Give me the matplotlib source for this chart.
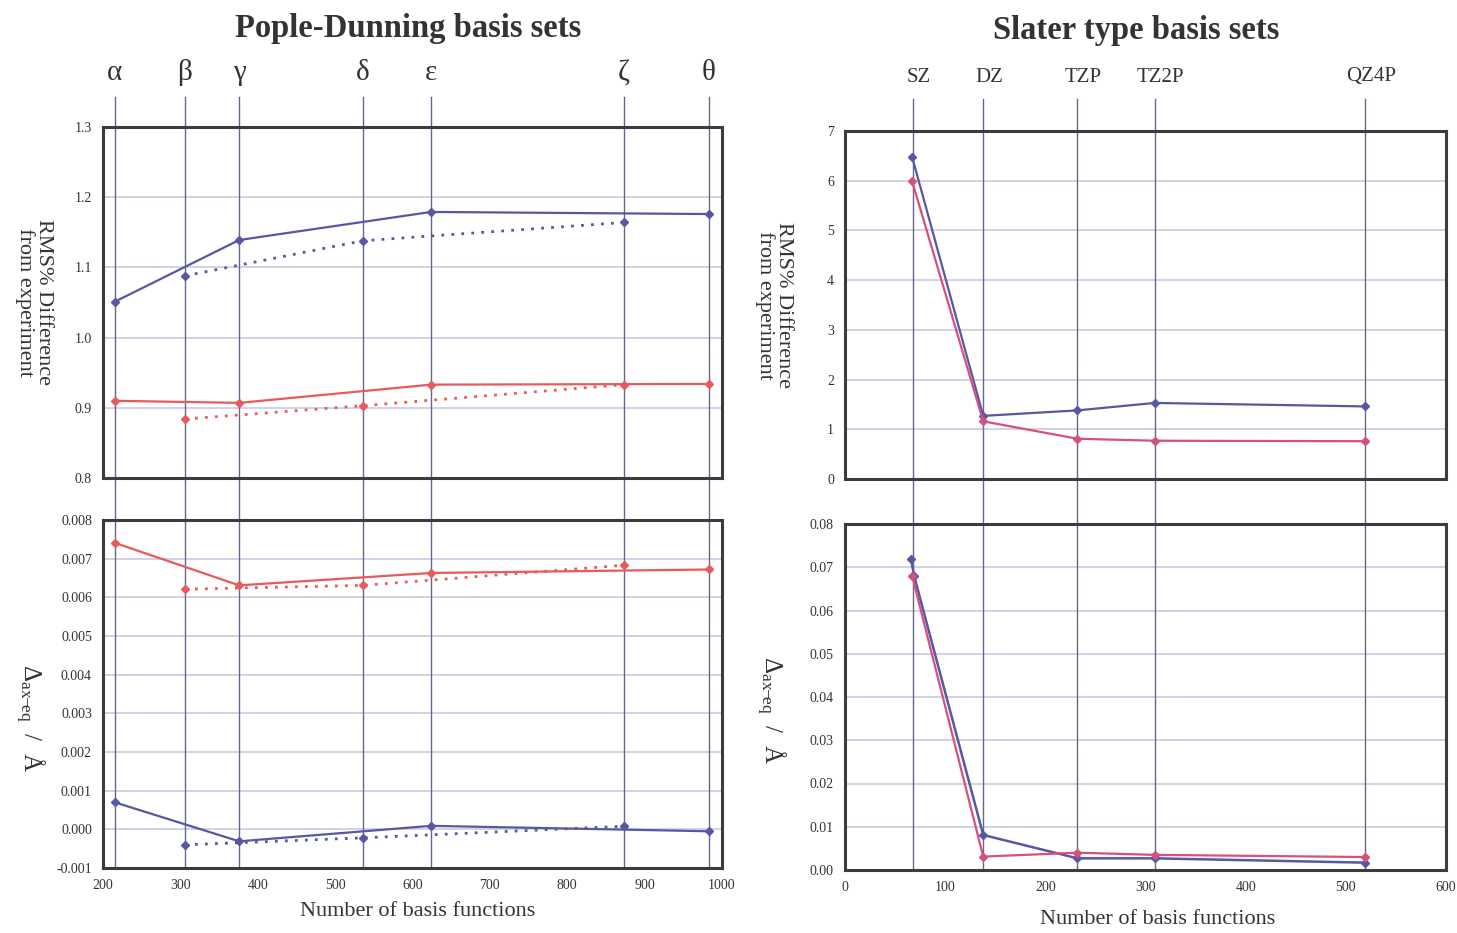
import matplotlib
matplotlib.use("Agg")
import matplotlib.pyplot as plt
import numpy as np

plt.rcParams['font.family'] = ['Liberation Serif', 'DejaVu Serif']
plt.rcParams['mathtext.fontset'] = 'custom'
plt.rcParams['mathtext.rm'] = 'Liberation Serif'
plt.rcParams['mathtext.it'] = 'Liberation Serif:italic'

# ---------------- data ----------------
pd_labels = ['α', 'β', 'γ', 'δ', 'ε', 'ζ', 'θ']
pd_nbf = [215, 306, 376, 536, 624, 873, 983]

# solid series: α, γ, ε, θ ; dotted series: β, δ, ζ
pd_solid_x = [215, 376, 624, 983]
pd_dot_x = [306, 536, 873]

rms_blue_solid = [1.051, 1.139, 1.179, 1.176]
rms_blue_dot = [1.088, 1.138, 1.164]
rms_red_solid = [0.910, 0.907, 0.933, 0.934]
rms_red_dot = [0.884, 0.903, 0.933]

dax_red_solid = [0.00741, 0.00631, 0.00663, 0.00672]
dax_red_dot = [0.00621, 0.00631, 0.00683]
dax_blue_solid = [0.00070, -0.00031, 0.00009, -0.00005]
dax_blue_dot = [-0.00040, -0.00022, 0.00008]

sl_labels = ['SZ', 'DZ', 'TZP', 'TZ2P', 'QZ4P']
sl_nbf = [68, 138, 232, 309, 519]

sl_rms_blue_x = [67, 138, 232, 309, 519]
sl_rms_blue = [6.48, 1.27, 1.38, 1.53, 1.46]
sl_rms_red_x = [67, 138, 232, 309, 519]
sl_rms_red = [5.99, 1.16, 0.81, 0.77, 0.76]

sl_dax_blue_x = [66, 69, 138, 232, 309, 519]
sl_dax_blue = [0.0718, 0.0680, 0.0081, 0.0027, 0.0027, 0.0017]
sl_dax_red_x = [67, 138, 232, 309, 519]
sl_dax_red = [0.0680, 0.0031, 0.0040, 0.0035, 0.0030]

# ---------------- style ----------------
BLUE = '#5757a3'
RED = '#e85a5c'
PINK = '#d6507c'
GRID = '#cfcfe6'
VLINE = '#66668a'
SPINE = '#3c3c3c'
TXT = '#333333'

W, H = 1457, 933
fig = plt.figure(figsize=(W / 100, H / 100), dpi=100)


def ax_at(l, t, r, b):
    return fig.add_axes([l / W, 1 - b / H, (r - l) / W, (b - t) / H])


axLT = ax_at(103, 127, 722, 478)
axLB = ax_at(103, 520, 722, 868)
axRT = ax_at(845, 131, 1446, 479)
axRB = ax_at(845, 524, 1446, 870)


def style(ax, xlim, ylim, yticks, ylabels, xticks=None):
    ax.set_xlim(*xlim)
    ax.set_ylim(*ylim)
    ax.set_yticks(yticks)
    ax.set_yticklabels(ylabels)
    for y in yticks[1:-1]:
        ax.axhline(y, color=GRID, lw=1.3, zorder=0)
    if xticks is None:
        ax.set_xticks([])
    else:
        ax.set_xticks(xticks)
        ax.set_xticklabels([str(v) for v in xticks])
    ax.tick_params(length=0, labelsize=10, colors=TXT, pad=8)
    for s in ax.spines.values():
        s.set_color(SPINE)
        s.set_linewidth(2.2)


lt_ticks = [0.8, 0.9, 1.0, 1.1, 1.2, 1.3]
style(axLT, (200, 1000), (0.8, 1.3), lt_ticks, ['{:.1f}'.format(v) for v in lt_ticks])
lb_ticks = [-0.001, 0, 0.001, 0.002, 0.003, 0.004, 0.005, 0.006, 0.007, 0.008]
style(axLB, (200, 1000), (-0.001, 0.008), lb_ticks,
      ['-0.001'] + ['{:.3f}'.format(v) for v in lb_ticks[1:]],
      xticks=[200, 300, 400, 500, 600, 700, 800, 900, 1000])
rt_ticks = [0, 1, 2, 3, 4, 5, 6, 7]
style(axRT, (0, 600), (0, 7), rt_ticks, [str(v) for v in rt_ticks])
rb_ticks = [0, 0.01, 0.02, 0.03, 0.04, 0.05, 0.06, 0.07, 0.08]
style(axRB, (0, 600), (0, 0.08), rb_ticks, ['{:.2f}'.format(v) for v in rb_ticks],
      xticks=[0, 100, 200, 300, 400, 500, 600])

# vertical basis-set lines
for x in pd_nbf:
    axLT.axvline(x, ymin=-(520 - 478) / 351, ymax=1 + (127 - 97) / 351, color=VLINE,
                 lw=1.0, clip_on=False, zorder=1)
    axLB.axvline(x, ymin=0, ymax=1, color=VLINE, lw=1.0, zorder=1)
for x in sl_nbf:
    axRT.axvline(x, ymin=-(524 - 479) / 348, ymax=1 + (131 - 99) / 348, color=VLINE,
                 lw=1.0, clip_on=False, zorder=1)
    axRB.axvline(x, ymin=0, ymax=1, color=VLINE, lw=1.0, zorder=1)

# top labels
for lab, x in zip(pd_labels, pd_nbf):
    xf = axLT.transData.transform((x, 0))[0] / W
    fig.text(xf, 1 - 73 / H, lab, ha='center', va='center', fontsize=21, color=TXT)
for lab, x in zip(sl_labels, sl_nbf):
    xf = (axRT.transData.transform((x, 0))[0] + 6) / W
    fig.text(xf, 1 - 77 / H, lab, ha='center', va='center', fontsize=15, color=TXT)

fig.text(408 / W, 1 - 29 / H, 'Pople-Dunning basis sets', ha='center', va='center',
         fontsize=23.5, fontweight='bold', color=TXT)
fig.text(1136 / W, 1 - 31 / H, 'Slater type basis sets', ha='center', va='center',
         fontsize=23.5, fontweight='bold', color=TXT)

mk = dict(marker='D', ms=4)
dot = (0, (1, 2.6))

# Pople-Dunning RMS
axLT.plot(pd_solid_x, rms_blue_solid, color=BLUE, lw=1.6, **mk, zorder=3)
axLT.plot(pd_dot_x, rms_blue_dot, color=BLUE, lw=2.0, ls=dot, **mk, zorder=3)
axLT.plot(pd_solid_x, rms_red_solid, color=RED, lw=1.6, **mk, zorder=3)
axLT.plot(pd_dot_x, rms_red_dot, color=RED, lw=2.0, ls=dot, **mk, zorder=3)

# Pople-Dunning Δ
axLB.plot(pd_solid_x, dax_red_solid, color=RED, lw=1.6, **mk, zorder=3)
axLB.plot(pd_dot_x, dax_red_dot, color=RED, lw=2.0, ls=dot, **mk, zorder=3)
axLB.plot(pd_solid_x, dax_blue_solid, color=BLUE, lw=1.6, **mk, zorder=3)
axLB.plot(pd_dot_x, dax_blue_dot, color=BLUE, lw=2.0, ls=dot, **mk, zorder=3)

# Slater RMS
axRT.plot(sl_rms_blue_x, sl_rms_blue, color=BLUE, lw=1.6, **mk, zorder=3)
axRT.plot(sl_rms_red_x, sl_rms_red, color=PINK, lw=1.6, **mk, zorder=3)

# Slater Δ
axRB.plot(sl_dax_blue_x, sl_dax_blue, color=BLUE, lw=1.8, **mk, zorder=3)
axRB.plot(sl_dax_red_x, sl_dax_red, color=PINK, lw=1.6, **mk, zorder=3)

# axis labels
ylab_rms = 'RMS% Difference\nfrom experiment'
fig.text(34 / W, 1 - 302 / H, ylab_rms, rotation=270, ha='center', va='center',
         fontsize=16, color=TXT, linespacing=1.0)
fig.text(774 / W, 1 - 305 / H, ylab_rms, rotation=270, ha='center', va='center',
         fontsize=16, color=TXT, linespacing=1.0)
ylab_d = r'$\Delta_{\mathrm{ax\!\!-\!\!eq}}$  /  Å'
fig.text(30 / W, 1 - 718 / H, ylab_d, rotation=270, ha='center', va='center',
         fontsize=18, color=TXT)
fig.text(771 / W, 1 - 710 / H, ylab_d, rotation=270, ha='center', va='center',
         fontsize=18, color=TXT)

fig.text(418 / W, 1 - 911 / H, 'Number of basis functions', ha='center', va='center',
         fontsize=16, color=TXT)
fig.text(1158 / W, 1 - 920 / H, 'Number of basis functions', ha='center', va='center',
         fontsize=16, color=TXT)

fig.savefig('out.png', dpi=100)
